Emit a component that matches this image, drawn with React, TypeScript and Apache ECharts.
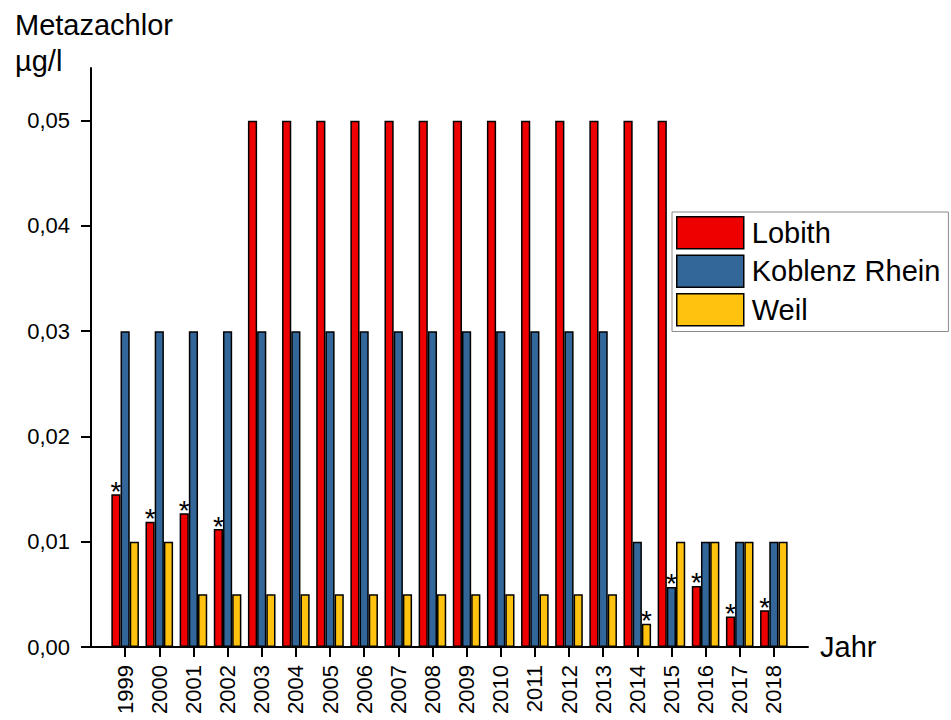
import React, { useEffect, useRef } from "react";
import * as echarts from "echarts";

// Jahresmittel Metazachlor (µg/l) an drei Rheinmessstellen
const years = [
  "1999", "2000", "2001", "2002", "2003", "2004", "2005", "2006", "2007", "2008",
  "2009", "2010", "2011", "2012", "2013", "2014", "2015", "2016", "2017", "2018",
];
const lobith = [
  0.0145, 0.0119, 0.0127, 0.0112, 0.05, 0.05, 0.05, 0.05, 0.05, 0.05,
  0.05, 0.05, 0.05, 0.05, 0.05, 0.05, 0.05, 0.0058, 0.0029, 0.0035,
];
const koblenz = [
  0.03, 0.03, 0.03, 0.03, 0.03, 0.03, 0.03, 0.03, 0.03, 0.03,
  0.03, 0.03, 0.03, 0.03, 0.03, 0.01, 0.0057, 0.01, 0.01, 0.01,
];
const weil = [
  0.01, 0.01, 0.005, 0.005, 0.005, 0.005, 0.005, 0.005, 0.005, 0.005,
  0.005, 0.005, 0.005, 0.005, 0.005, 0.0022, 0.01, 0.01, 0.01, 0.01,
];
// Jahre, deren Wert mit * gekennzeichnet ist
const lobithStars = ["1999", "2000", "2001", "2002", "2016", "2017", "2018"];
const koblenzStars = ["2015"];
const weilStars = ["2014"];
const yTicks = [0, 0.01, 0.02, 0.03, 0.04, 0.05];

const FONT = "'Liberation Sans', Arial, Helvetica, sans-serif";

// one empty slot on each side so the axis line runs past the outer groups
const axisCats = ["", ...years, ""];

function seriesData(values: number[], stars: string[]) {
  return [
    null,
    ...values.map((v, i) =>
      stars.includes(years[i]) ? { value: v, label: { show: true } } : v
    ),
    null,
  ];
}

function barSeries(name: string, color: string, values: number[], stars: string[]) {
  return {
    name,
    type: "bar",
    barWidth: 9.2,
    barGap: "0%",
    data: seriesData(values, stars),
    itemStyle: { color, borderColor: "#000", borderWidth: 1.5 },
    label: {
      show: false,
      position: "top",
      formatter: "*",
      fontSize: 28,
      fontFamily: FONT,
      color: "#000",
      distance: 0,
      offset: [0, 11],
    },
  };
}

export default function App() {
  const ref = useRef<HTMLDivElement>(null);

  useEffect(() => {
    if (!ref.current) return;
    const chart = echarts.init(ref.current, null, { renderer: "svg" });
    const last = axisCats.length - 1;
    chart.setOption({
      animation: false,
      backgroundColor: "#fff",
      textStyle: { fontFamily: FONT },
      title: {
        text: "Metazachlor\nµg/l",
        left: 10,
        top: 2,
        textStyle: {
          fontFamily: FONT,
          fontSize: 29,
          fontWeight: "normal",
          color: "#000",
          lineHeight: 36,
        },
      },
      legend: {
        orient: "vertical",
        left: 672,
        top: 212,
        itemWidth: 67,
        itemHeight: 32,
        itemGap: 5,
        padding: [4, 8, 5, 4],
        borderColor: "#8a8a8a",
        borderWidth: 1,
        backgroundColor: "#fff",
        icon: "rect",
        itemStyle: { borderColor: "#000", borderWidth: 1.5 },
        textStyle: {
          fontFamily: FONT,
          fontSize: 29,
          color: "#000",
          lineHeight: 32,
          padding: [0, 0, 0, 3],
        },
        data: ["Lobith", "Koblenz Rhein", "Weil"],
      },
      grid: { left: 91, right: 143, top: 68, bottom: 73, containLabel: false },
      xAxis: {
        type: "category",
        data: axisCats,
        boundaryGap: false,
        name: "Jahr",
        nameLocation: "end",
        nameGap: 12,
        nameTextStyle: {
          fontFamily: FONT,
          fontSize: 29,
          color: "#000",
          padding: [16, 0, 0, 0],
        },
        axisLine: { lineStyle: { color: "#000", width: 2 } },
        axisTick: {
          interval: (i: number) => i > 0 && i < last,
          length: 10,
          lineStyle: { color: "#000", width: 2 },
        },
        axisLabel: {
          interval: 0,
          rotate: 90,
          margin: 18,
          fontSize: 22,
          fontFamily: FONT,
          color: "#000",
        },
        splitLine: { show: false },
      },
      yAxis: {
        type: "value",
        min: 0,
        max: 0.055,
        axisLine: { show: true, lineStyle: { color: "#000", width: 2 } },
        axisTick: {
          show: true,
          customValues: yTicks,
          length: 10,
          lineStyle: { color: "#000", width: 2 },
        },
        axisLabel: {
          customValues: yTicks,
          formatter: (v: number) => v.toFixed(2).replace(".", ","),
          margin: 21,
          fontSize: 22,
          fontFamily: FONT,
          color: "#000",
        },
        splitLine: { show: false },
      },
      series: [
        barSeries("Lobith", "#ee0000", lobith, lobithStars),
        barSeries("Koblenz Rhein", "#336699", koblenz, koblenzStars),
        barSeries("Weil", "#ffc20e", weil, weilStars),
      ],
    });
    return () => chart.dispose();
  }, []);

  return (
    <div
      ref={ref}
      style={{ position: "fixed", left: 0, top: 0, width: 951, height: 720 }}
    />
  );
}
